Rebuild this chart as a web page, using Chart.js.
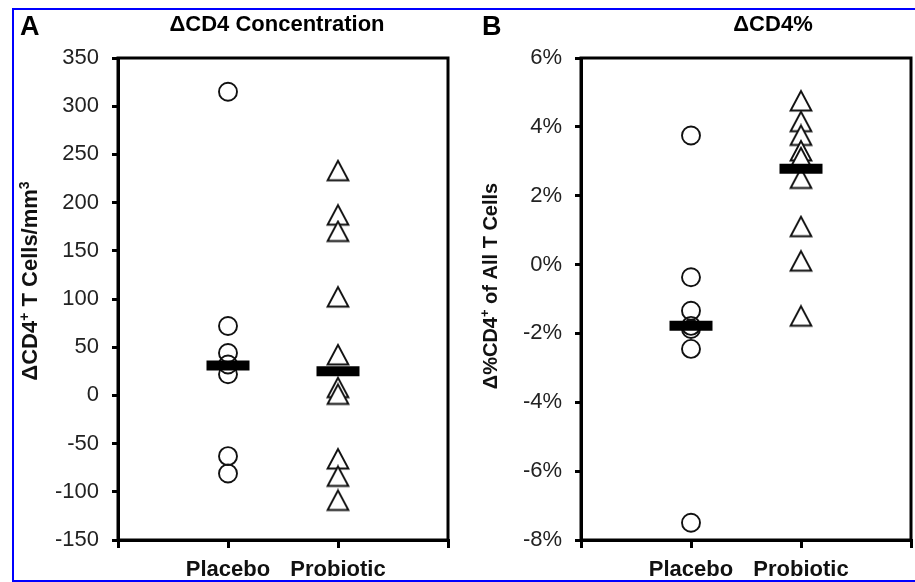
<!DOCTYPE html>
<html lang="en">
<head>
  <meta charset="UTF-8" />
  <title>ΔCD4 Concentration / ΔCD4%</title>
  <script src="https://cdn.jsdelivr.net/npm/chart.js@4.4.0/dist/chart.umd.min.js"></script>
  <style>
    *{box-sizing:border-box;margin:0;padding:0}
    body{width:915px;height:582px;background:#fff;position:relative;overflow:hidden;font-family:'Liberation Sans',Arial,sans-serif}
    /* blue frame, open on the right like the scan */
    #frame{position:absolute;left:12px;top:8px;width:920px;height:574px;border:2px solid #0000ff;border-right:none;pointer-events:none}
    #panelA{position:absolute;left:0;top:0;width:458px;height:582px}
    #panelB{position:absolute;left:458px;top:0;width:462px;height:582px}
  </style>
</head>
<body>
<div id="frame"></div>
<div id="panelA"><canvas id="chartA" width="458" height="582"></canvas></div>
<div id="panelB"><canvas id="chartB" width="462" height="582"></canvas></div>

<script>
// groups on the x axis (placed at x = 1 and x = 2)
const groups = ['Placebo', 'Probiotic'];

// A: change in CD4+ T cells / mm3
const concPlacebo = [315, 72, 44, 32, 22, -63, -81];
const concProbiotic = [233, 187, 170, 102, 42, 8, 1, -66, -84, -109];
const concMedian = [31, 25];
const concTicks = {min: -150, max: 350, step: 50};

// B: change in %CD4+ of all T cells
const pctPlacebo = [3.75, -0.37, -1.34, -1.78, -1.87, -2.45, -7.5];
const pctProbiotic = [4.75, 4.15, 3.75, 3.3, 3.1, 2.5, 1.1, 0.1, -1.5];
const pctMedian = [-1.78, 2.78];
const pctTicks = {min: -8, max: 6, step: 2};

const FONT = '"Liberation Sans", Arial, sans-serif';

/* open triangle drawn centred on its box */
function triangleImg(){
  const c = document.createElement('canvas'); c.width = 24; c.height = 24;
  const g = c.getContext('2d');
  g.strokeStyle = '#111'; g.lineWidth = 1.9; g.lineJoin = 'miter';
  g.beginPath(); g.moveTo(12, 2); g.lineTo(1.6, 21.5); g.lineTo(22.4, 21.5); g.closePath();
  g.fillStyle = '#fff'; g.fill(); g.stroke();
  return c;
}
const tri = triangleImg();

const pts = (arr, x) => arr.map(v => ({x, y: v}));

/* frame, panel letter, title and rotated y title (with superscripts) */
const panelText = {
  id: 'panelText',
  afterDatasetsDraw(chart, args, o){
    const {ctx, chartArea: a} = chart;
    ctx.save();
    ctx.strokeStyle = '#000'; ctx.lineWidth = 3;
    ctx.strokeRect(a.left, a.top, a.right - a.left, a.bottom - a.top);
    ctx.fillStyle = '#000'; ctx.textBaseline = 'middle';
    ctx.font = 'bold 27px ' + FONT;
    ctx.textAlign = 'left'; ctx.fillText(o.letter, o.lx, o.ly);
    ctx.font = 'bold 22px ' + FONT;
    ctx.textAlign = 'center'; ctx.fillText(o.title, o.tx, o.ty);

    // y title, bottom-to-top
    const big = 'bold ' + o.ySize + 'px ' + FONT, small = 'bold ' + Math.round(o.ySize * 0.65) + 'px ' + FONT;
    let w = 0;
    o.yParts.forEach(p => { ctx.font = p.sup ? small : big; w += ctx.measureText(p.t).width; });
    ctx.translate(o.yx, o.yy); ctx.rotate(-Math.PI / 2);
    ctx.textAlign = 'left'; ctx.textBaseline = 'alphabetic'; ctx.fillStyle = '#111';
    let x = -w / 2;
    o.yParts.forEach(p => {
      ctx.font = p.sup ? small : big;
      ctx.fillText(p.t, x, p.sup ? -1 : 7);
      x += ctx.measureText(p.t).width;
    });
    ctx.restore();
  }
};

function makeChart(id, cfg){
  return new Chart(document.getElementById(id), {
    type: 'scatter',
    data: {datasets: [
      {data: cfg.median.map((v, i) => ({x: i + 1, y: v})), pointStyle: 'line', pointRadius: 21.5, pointBorderWidth: 10, borderColor: '#000'},
      {data: pts(cfg.placebo, 1), pointStyle: 'circle', pointRadius: 9, pointBorderWidth: 1.9, borderColor: '#111', backgroundColor: 'rgba(255,255,255,0)'},
      {data: pts(cfg.probiotic, 2), pointStyle: tri, pointRadius: 12}
    ]},
    options: {
      responsive: false, animation: false, events: [],
      layout: {autoPadding: false, padding: {top: 58, right: cfg.padR, bottom: 0, left: 0}},
      plugins: {legend: {display: false}, tooltip: {enabled: false}, panelText: cfg.text},
      scales: {
        x: {
          type: 'linear', min: 0, max: 3,
          afterFit: s => { s.height = 42; },
          grid: {drawOnChartArea: false, drawTicks: true, tickLength: 8, lineWidth: 3, color: '#000'},
          border: {display: true, width: 3, color: '#000'},
          ticks: {stepSize: 1, padding: 9, color: '#111', font: {family: FONT, size: 22, weight: 'bold'},
                  callback: v => groups[v - 1] || ''}
        },
        y: {
          min: cfg.ticks.min, max: cfg.ticks.max,
          afterFit: s => { s.width = cfg.axisW; },
          grid: {drawOnChartArea: false, drawTicks: true, tickLength: 6, lineWidth: 3, color: '#000'},
          border: {display: true, width: 3, color: '#000'},
          ticks: {stepSize: cfg.ticks.step, padding: 13, color: '#222', font: {family: FONT, size: 22},
                  callback: cfg.fmt}
        }
      }
    },
    plugins: [panelText]
  });
}

makeChart('chartA', {
  placebo: concPlacebo, probiotic: concProbiotic, median: concMedian, ticks: concTicks,
  padR: 10, axisW: 118, fmt: v => v,
  text: {letter: 'A', lx: 20, ly: 28, title: 'ΔCD4 Concentration', tx: 277, ty: 25,
         yx: 30, yy: 281, ySize: 22, yParts: [{t: 'ΔCD4'}, {t: '+', sup: true}, {t: ' T Cells/mm'}, {t: '3', sup: true}]}
});
makeChart('chartB', {
  placebo: pctPlacebo, probiotic: pctProbiotic, median: pctMedian, ticks: pctTicks,
  padR: 9, axisW: 123, fmt: v => v + '%',
  text: {letter: 'B', lx: 24, ly: 28, title: 'ΔCD4%', tx: 315, ty: 25,
         yx: 32, yy: 286, ySize: 20, yParts: [{t: 'Δ%CD4'}, {t: '+', sup: true}, {t: ' of All T Cells'}]}
});
</script>
</body>
</html>
